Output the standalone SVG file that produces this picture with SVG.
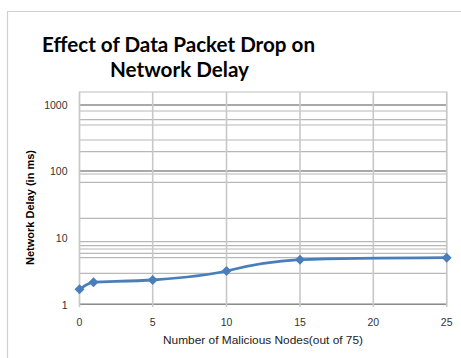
<svg xmlns="http://www.w3.org/2000/svg" width="461" height="358" viewBox="0 0 461 358">
<style>
.t{font-family:"Liberation Sans",Arial,sans-serif;fill:#333}
.title{font-family:Lato,"Liberation Sans",Arial,sans-serif;font-weight:bold;font-size:21px;fill:#000}
.tick{font-size:10.5px}
.minor{stroke:#b8b8b8;stroke-width:1.2}
.major{stroke:#8c8c8c;stroke-width:1.4}
.vg{stroke:#c8c8c8;stroke-width:1.6}
.mk{fill:#4a7ebb}
</style>
<defs>
<path id="dia" d="M0,-5 L5,0 L0,5 L-5,0 Z"/>
</defs>
<rect x="0" y="0" width="461" height="358" fill="#fff"/>
<g id="frame">
<path d="M7.5,358 V11.5 H461" fill="none" stroke="#d0d0d0" stroke-width="1.2"/>
</g>
<g id="title">
<text class="title" x="178.5" y="51.5" text-anchor="middle" textLength="273" lengthAdjust="spacingAndGlyphs">Effect of Data Packet Drop on</text>
<text class="title" x="179.5" y="77" text-anchor="middle" textLength="139" lengthAdjust="spacingAndGlyphs">Network Delay</text>
</g>
<g id="plot-area">
<rect x="79.5" y="92" width="367.2" height="212.3" fill="none" stroke="#c8c8c8" stroke-width="1.2"/>
<g id="h-grid">
<line class="minor" x1="79.5" x2="446.7" y1="111" y2="111"/>
<line class="minor" x1="79.5" x2="446.7" y1="119.7" y2="119.7"/>
<line class="minor" x1="79.5" x2="446.7" y1="125" y2="125"/>
<line class="minor" x1="79.5" x2="446.7" y1="140" y2="140"/>
<line class="minor" x1="79.5" x2="446.7" y1="151.7" y2="151.7"/>
<line class="minor" x1="79.5" x2="446.7" y1="174" y2="174"/>
<line class="minor" x1="79.5" x2="446.7" y1="182.3" y2="182.3"/>
<line class="minor" x1="79.5" x2="446.7" y1="218.3" y2="218.3"/>
<line class="minor" x1="79.5" x2="446.7" y1="241.7" y2="241.7"/>
<line class="minor" x1="79.5" x2="446.7" y1="245.7" y2="245.7"/>
<line class="minor" x1="79.5" x2="446.7" y1="249" y2="249"/>
<line class="minor" x1="79.5" x2="446.7" y1="253.3" y2="253.3"/>
<line class="minor" x1="79.5" x2="446.7" y1="257.7" y2="257.7"/>
<line class="minor" x1="79.5" x2="446.7" y1="273.3" y2="273.3"/>
<line class="major" x1="79.5" x2="446.7" y1="105" y2="105"/>
<line class="major" x1="79.5" x2="446.7" y1="171" y2="171"/>
<line class="major" x1="79.5" x2="446.7" y1="304.3" y2="304.3"/>
</g>
<g id="v-grid">
<line class="vg" x1="79.5" x2="79.5" y1="92" y2="307"/>
<line class="vg" x1="152.7" x2="152.7" y1="92" y2="307"/>
<line class="vg" x1="226.5" x2="226.5" y1="92" y2="307"/>
<line class="vg" x1="300" x2="300" y1="92" y2="307"/>
<line class="vg" x1="373.3" x2="373.3" y1="92" y2="307"/>
<line class="vg" x1="446.7" x2="446.7" y1="92" y2="307"/>
</g>
</g>
<g id="y-ticks" text-anchor="end">
<text class="t tick" x="67.5" y="109">1000</text>
<text class="t tick" x="67.5" y="175">100</text>
<text class="t tick" x="67.5" y="242">10</text>
<text class="t tick" x="67.5" y="309">1</text>
</g>
<g id="x-ticks" text-anchor="middle">
<text class="t tick" x="79.5" y="325.5">0</text>
<text class="t tick" x="152.7" y="325.5">5</text>
<text class="t tick" x="226.5" y="325.5">10</text>
<text class="t tick" x="300" y="325.5">15</text>
<text class="t tick" x="373.3" y="325.5">20</text>
<text class="t tick" x="446.7" y="325.5">25</text>
</g>
<g id="axis-titles">
<text class="t" x="263" y="343.5" text-anchor="middle" font-size="11" textLength="200" lengthAdjust="spacingAndGlyphs" style="fill:#222">Number of Malicious Nodes(out of 75)</text>
<text class="t" transform="translate(33.5,207.5) rotate(-90)" text-anchor="middle" font-size="11" font-weight="bold" textLength="115" lengthAdjust="spacingAndGlyphs" style="fill:#000">Network Delay (in ms)</text>
</g>
<g id="connectors">
<path d="M79.5,289.3 C84,286.5 88,283 93.5,282.2 C110,281.5 135,281 152.7,280 C180,278 205,276 226.5,271 C250,265 275,261 300,259.7 C340,258.5 400,258 446.7,257.7" fill="none" stroke="#4a7ebb" stroke-width="2.8" stroke-linejoin="round"/>
</g>
<g id="markers">
<use href="#dia" class="mk" x="79.5" y="289.3"/>
<use href="#dia" class="mk" x="93.5" y="282.2"/>
<use href="#dia" class="mk" x="152.7" y="280"/>
<use href="#dia" class="mk" x="226.5" y="271"/>
<use href="#dia" class="mk" x="300" y="259.7"/>
<use href="#dia" class="mk" x="446.7" y="257.7"/>
</g>
</svg>
